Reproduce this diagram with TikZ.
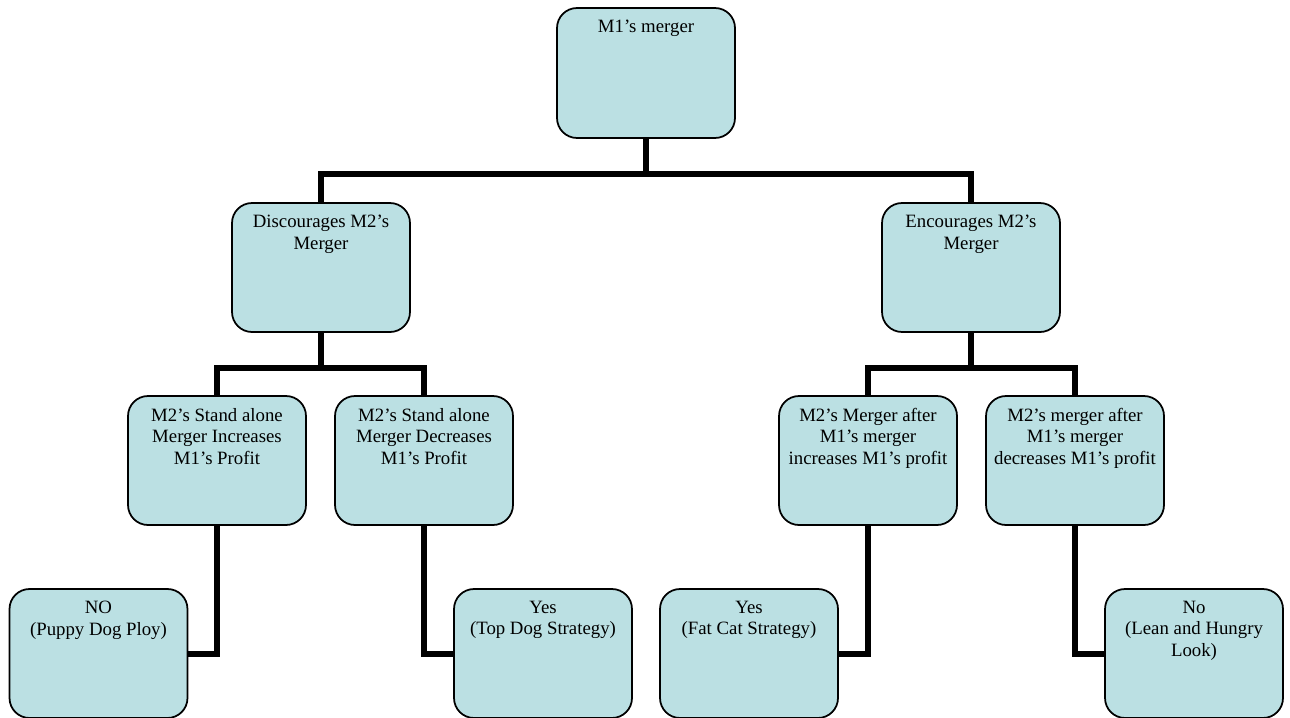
\documentclass[tikz,border=0pt]{standalone}
\usepackage{fontspec}
\setmainfont{Liberation Serif}
\usepackage{tikz}
\usetikzlibrary{positioning}
\definecolor{boxfill}{RGB}{187,224,227}
\tikzset{
  stage/.style={draw=black, line width=1pt, fill=boxfill, rounded corners=0.4cm,
    minimum width=3.56cm, minimum height=2.58cm, inner sep=0pt},
  stagetext/.style={anchor=north, inner sep=0pt, yshift=-0.25cm, align=center,
    font=\fontsize{10.7}{12.3}\selectfont},
  branch/.style={line width=0.12cm, line join=miter}
}
\begin{document}
\begin{tikzpicture}[x=0.02cm, y=-0.02cm]
\useasboundingbox (0,0) rectangle (1290,717);
\coordinate (top) at (646,73);
\coordinate (dis) at (321,267.5);
\coordinate (enc) at (971,267.5);
\coordinate (sai) at (217,460.5);
\coordinate (sad) at (424,460.5);
\coordinate (mai) at (868,460.5);
\coordinate (mad) at (1075,460.5);
\coordinate (pdp) at (98.5,653.5);
\coordinate (tds) at (543,653.5);
\coordinate (fcs) at (749,653.5);
\coordinate (lhl) at (1194,653.5);
% draws boxes
\node[stage, minimum height=2.6cm, label={[stagetext]north:{M1’s merger}}] (m1) at (top) {};
\node[stage, label={[stagetext]north:{Discourages M2’s\\Merger}}] (disc) at (dis) {};
\node[stage, label={[stagetext]north:{Encourages M2’s\\Merger}}] (encr) at (enc) {};
\node[stage, label={[stagetext]north:{M2’s Stand alone\\Merger Increases\\M1’s Profit}}] (saInc) at (sai) {};
\node[stage, label={[stagetext]north:{M2’s Stand alone\\Merger Decreases\\M1’s Profit}}] (saDec) at (sad) {};
\node[stage, label={[stagetext]north:{M2’s Merger after\\M1’s merger\\increases M1’s profit}}] (maInc) at (mai) {};
\node[stage, label={[stagetext]north:{M2’s merger after\\M1’s merger\\decreases M1’s profit}}] (maDec) at (mad) {};
\node[stage, label={[stagetext]north:{NO\\(Puppy Dog Ploy)}}] (puppy) at (pdp) {};
\node[stage, label={[stagetext]north:{Yes\\(Top Dog Strategy)}}] (topdog) at (tds) {};
\node[stage, label={[stagetext]north:{Yes\\(Fat Cat Strategy)}}] (fatcat) at (fcs) {};
\node[stage, label={[stagetext]north:{No\\(Lean and Hungry\\Look)}}] (lean) at (lhl) {};
% draws connectors
\begin{scope}[branch]
\draw (m1.south) -- +(0,35) -| (disc.north);
\draw (m1.south) -- +(0,35) -| (encr.north);
\draw (disc.south) -- +(0,35) -| (saInc.north);
\draw (disc.south) -- +(0,35) -| (saDec.north);
\draw (encr.south) -- +(0,35) -| (maInc.north);
\draw (encr.south) -- +(0,35) -| (maDec.north);
\draw (saInc.south) |- (puppy.east);
\draw (saDec.south) |- (topdog.west);
\draw (maInc.south) |- (fatcat.east);
\draw (maDec.south) |- (lean.west);
\end{scope}
\end{tikzpicture}
\end{document}
